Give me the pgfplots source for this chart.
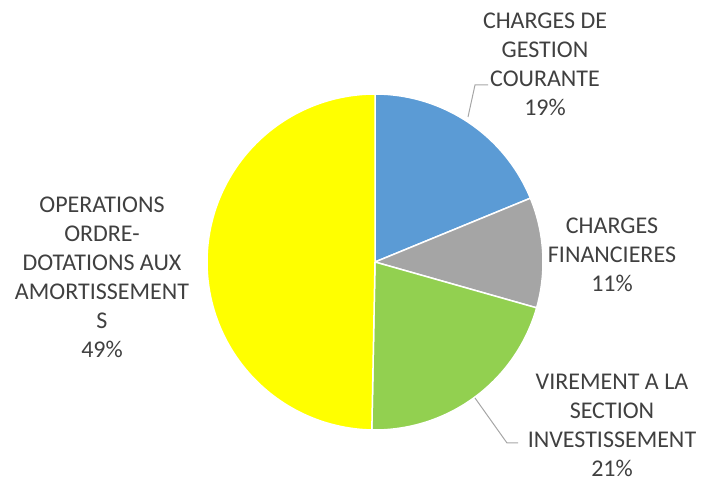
\documentclass[border=0pt]{standalone}
\usepackage{pgfplots}
\pgfplotsset{compat=1.18}
\usepackage{fontspec}
\setmainfont{Carlito}
\definecolor{cblue}{HTML}{5B9BD5}
\definecolor{cgray}{HTML}{A5A5A5}
\definecolor{cgreen}{HTML}{92D050}
\definecolor{cyellow}{HTML}{FFFF00}
\definecolor{ctext}{HTML}{404040}
\definecolor{cline}{HTML}{A6A6A6}
\begin{document}
\begin{tikzpicture}
% shares (percent)
\def\va{18.8}\def\vb{10.6}\def\vc{20.9}\def\vd{49.7}
\pgfmathsetmacro\aA{90}
\pgfmathsetmacro\aB{\aA-3.6*\va}
\pgfmathsetmacro\aC{\aB-3.6*\vb}
\pgfmathsetmacro\aD{\aC-3.6*\vc}
\pgfmathsetmacro\aE{\aD-3.6*\vd}
\begin{axis}[hide axis, x=1pt, y=1pt, xmin=0, xmax=702, ymin=0, ymax=481,
  scale only axis, clip=false, anchor=origin, at={(0,0)}]
\addplot[fill=cblue, draw=white, line width=1.5pt, domain=\aB:\aA, samples=60, variable=\t]
  ({375+168*cos(\t)},{219+168*sin(\t)}) -- (axis cs:375,219) -- cycle;
\addplot[fill=cgray, draw=white, line width=1.5pt, domain=\aC:\aB, samples=40, variable=\t]
  ({375+168*cos(\t)},{219+168*sin(\t)}) -- (axis cs:375,219) -- cycle;
\addplot[fill=cgreen, draw=white, line width=1.5pt, domain=\aD:\aC, samples=60, variable=\t]
  ({375+168*cos(\t)},{219+168*sin(\t)}) -- (axis cs:375,219) -- cycle;
\addplot[fill=cyellow, draw=white, line width=1.5pt, domain=\aE:\aD, samples=120, variable=\t]
  ({375+168*cos(\t)},{219+168*sin(\t)}) -- (axis cs:375,219) -- cycle;
\addplot[cline, line width=1pt] coordinates {(468,364) (475,396) (488,396)};
\addplot[cline, line width=1pt] coordinates {(475,83) (507,38) (518,38)};
\begin{scope}[every node/.style={align=center, text=ctext, inner sep=0pt, font=\fontsize{24}{29}\selectfont}]
\node at (axis cs:545,417) {CHARGES DE\\GESTION\\COURANTE\\19\%};
\node at (axis cs:612,226) {CHARGES\\FINANCIERES\\11\%};
\node at (axis cs:612,56) {VIREMENT A LA\\SECTION\\INVESTISSEMENT\\21\%};
\node at (axis cs:102,204) {OPERATIONS\\ORDRE-\\DOTATIONS AUX\\AMORTISSEMENT\\S\\49\%};
\end{scope}
\end{axis}
\pgfresetboundingbox
\useasboundingbox (0,0) rectangle (702pt,481pt);
\end{tikzpicture}
\end{document}
